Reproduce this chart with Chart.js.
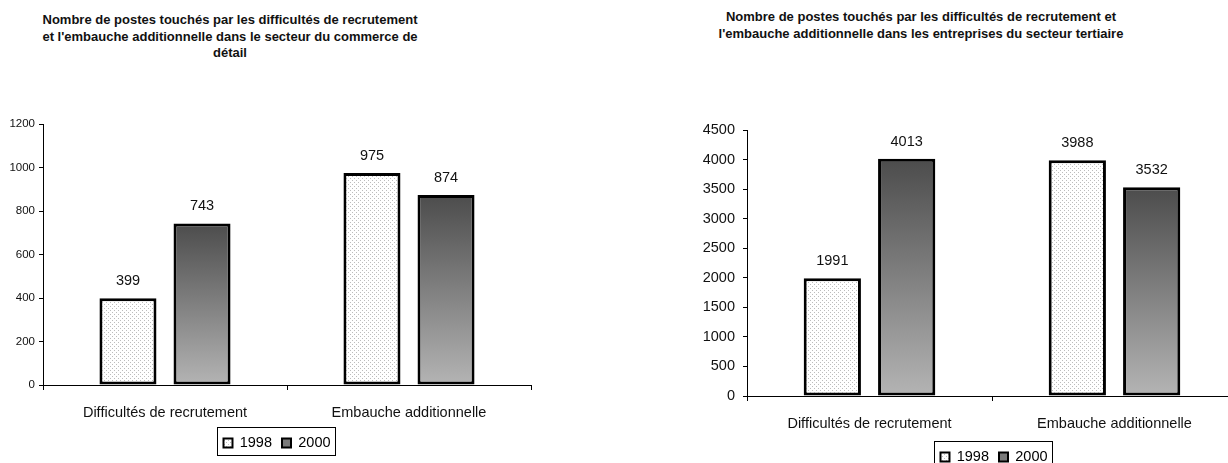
<!DOCTYPE html>
<html lang="fr">
<head>
<meta charset="utf-8">
<script src="https://cdn.jsdelivr.net/npm/chart.js@4"></script>
<style>
  html, body { margin: 0; padding: 0; background: #fff; overflow: hidden; width: 1228px; height: 463px; }
  .titre { position: absolute; text-align: center; font: bold 13px "Liberation Sans", Arial, sans-serif; line-height: 16.5px; color: #111; }
  canvas { position: absolute; top: 0; }
</style>
</head>
<body>
<div class="titre" style="left:0; top:12px; width:460px;">Nombre de postes touchés par les difficultés de recrutement<br>et l'embauche additionnelle dans le secteur du commerce de<br>détail</div>
<div class="titre" style="left:671px; top:9px; width:500px;">Nombre de postes touchés par les difficultés de recrutement et<br>l'embauche additionnelle dans les entreprises du secteur tertiaire</div>
<canvas id="gauche" width="614" height="463" style="left:0"></canvas>
<canvas id="droite" width="630" height="480" style="left:614px"></canvas>
<script>
const categories = ['Difficultés de recrutement', 'Embauche additionnelle'];
const annees = ['1998', '2000'];
const detail1998 = [399, 975];
const detail2000 = [743, 874];
const tertiaire1998 = [1991, 3988];
const tertiaire2000 = [4013, 3532];

Chart.defaults.font.family = '"Liberation Sans", Arial, sans-serif';
Chart.defaults.color = '#000';

// motif pointillé pour 1998
const pc = document.createElement('canvas');
pc.width = 4; pc.height = 4;
const pctx = pc.getContext('2d');
pctx.fillStyle = '#fff'; pctx.fillRect(0, 0, 4, 4);
pctx.fillStyle = '#bcbcbc';
pctx.fillRect(0, 0, 1, 1); pctx.fillRect(2, 2, 1, 1);
const motif = pctx.createPattern(pc, 'repeat');

// dégradé vertical pour 2000
const degrade = ctx => {
    if (ctx.type !== 'data' || !ctx.chart.chartArea) return '#808080';
    const y = ctx.chart.scales.y;
    const haut = y.getPixelForValue(ctx.raw), bas = y.getPixelForValue(0);
    const g = ctx.chart.ctx.createLinearGradient(0, haut, 0, bas);
    g.addColorStop(0, '#4c4c4c');
    g.addColorStop(1, '#b4b4b4');
    return g;
};

const valeurs = {
    id: 'valeurs',
    afterDatasetsDraw(chart) {
        const c = chart.ctx;
        c.save();
        c.font = '14.5px "Liberation Sans", Arial, sans-serif';
        c.fillStyle = '#111'; c.textAlign = 'center'; c.textBaseline = 'middle';
        chart.data.datasets.forEach((ds, i) => {
            chart.getDatasetMeta(i).data.forEach((bar, j) => {
                c.fillText(String(ds.data[j]), bar.x, bar.y - 17);
            });
        });
        c.restore();
    }
};

// décale la légende et l'entoure d'un cadre
const cadreLegende = {
    id: 'cadreLegende',
    afterLayout(chart, args, opts) {
        const lg = chart.legend;
        if (!lg || !opts.decalage) return;
        lg.left += opts.decalage; lg.right += opts.decalage;
    },
    afterDraw(chart) {
        const lg = chart.legend;
        if (!lg || !lg.legendHitBoxes.length) return;
        const hb = lg.legendHitBoxes;
        const x0 = Math.min(...hb.map(h => h.left)) - 6;
        const x1 = Math.max(...hb.map(h => h.left + h.width)) + 5;
        const yc = hb[0].top + hb[0].height / 2;
        const c = chart.ctx;
        c.save();
        c.strokeStyle = '#000'; c.lineWidth = 1;
        c.strokeRect(Math.round(x0) + 0.5, Math.round(yc - 16) + 0.5, Math.round(x1 - x0), 28);
        c.restore();
    }
};

function faire(id, d1998, d2000, cfg) {
    new Chart(document.getElementById(id), {
        type: 'bar',
        data: {
            labels: categories,
            datasets: [
                { label: annees[0], data: d1998, backgroundColor: motif },
                { label: annees[1], data: d2000, backgroundColor: degrade }
            ]
        },
        options: {
            responsive: false,
            animation: false,
            devicePixelRatio: 1,
            datasets: { bar: { borderColor: '#000', borderWidth: 3, borderSkipped: false, categoryPercentage: 0.607, barPercentage: 0.77 } },
            layout: { padding: cfg.padding },
            plugins: {
                title: { display: false },
                tooltip: { enabled: false },
                cadreLegende: { decalage: cfg.decalage },
                legend: {
                    position: 'bottom',
                    fullSize: false,
                    labels: {
                        boxWidth: 9, boxHeight: 9, padding: 10,
                        font: { size: 14.5 }, color: '#111',
                        generateLabels: chart => chart.data.datasets.map((ds, i) => ({
                            text: ds.label, fillStyle: i === 0 ? motif : '#7a7a7a',
                            strokeStyle: '#000', lineWidth: 2, datasetIndex: i, hidden: false
                        }))
                    }
                }
            },
            scales: {
                x: {
                    grid: { offset: true, drawOnChartArea: false, drawTicks: true, tickLength: 5, color: '#000' },
                    border: { color: '#000', width: 1 },
                    ticks: { padding: 14, maxRotation: 0, autoSkip: false, font: { size: 14.5 }, color: '#111' },
                    afterFit: s => { s.height = cfg.xH; }
                },
                y: {
                    min: 0, max: cfg.max,
                    grid: { drawOnChartArea: false, drawTicks: true, tickLength: 4, color: '#000' },
                    border: { color: '#000', width: 1 },
                    ticks: { stepSize: cfg.step, padding: cfg.yPad, font: { size: cfg.yFont }, color: '#111', callback: v => String(v) },
                    afterFit: s => { s.width = cfg.yW; }
                }
            }
        },
        plugins: [valeurs, cadreLegende]
    });
}

faire('gauche', detail1998, detail2000, {
    padding: { left: 0, right: 83, top: 124, bottom: 2.75 },
    decalage: -10, xH: 40.75, max: 1200, step: 200, yPad: 4, yFont: 11.5, yW: 43
});
faire('droite', tertiaire1998, tertiaire2000, {
    padding: { left: 0, right: 7, top: 130, bottom: 5.75 },
    decalage: 2, xH: 43.75, max: 4500, step: 500, yPad: 8, yFont: 14.5, yW: 133
});
</script>
</body>
</html>
